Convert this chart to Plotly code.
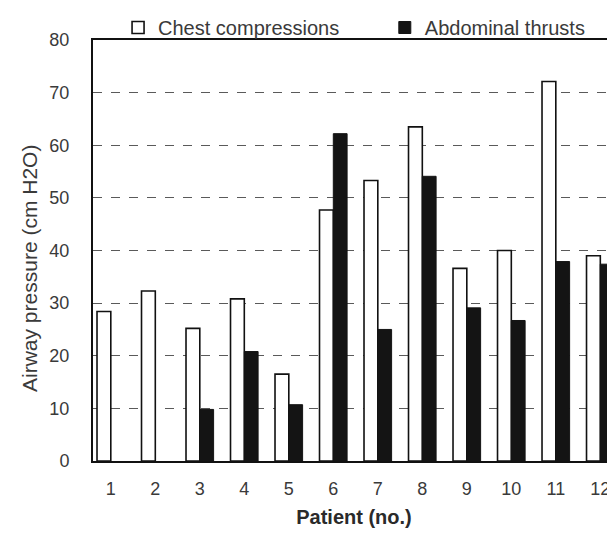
import plotly.graph_objects as go

# ---- data ----
patients = ["1", "2", "3", "4", "5", "6", "7", "8", "9", "10", "11", "12"]
chest_compressions = [28.4, 32.3, 25.2, 30.8, 16.5, 47.7, 53.3, 63.5, 36.6, 40.0, 72.1, 39.0]
abdominal_thrusts = [None, None, 9.8, 20.8, 10.7, 62.2, 25.0, 54.1, 29.1, 26.7, 37.9, 37.4]
y_ticks = [0, 10, 20, 30, 40, 50, 60, 70, 80]

FONT = "Liberation Sans, Arial, sans-serif"
TXT = "#3a3a3a"

fig = go.Figure()
fig.add_trace(go.Bar(
    name="Chest compressions", x=patients, y=chest_compressions, legend="legend",
    marker=dict(color="white", line=dict(color="#111111", width=1.6)),
))
fig.add_trace(go.Bar(
    name="Abdominal thrusts", x=patients, y=abdominal_thrusts, legend="legend2",
    marker=dict(color="#141414", line=dict(color="#141414", width=1)),
))

legend_common = dict(
    orientation="h", yanchor="middle", y=1.0305, xanchor="left",
    font=dict(family=FONT, size=20, color=TXT),
    bgcolor="rgba(0,0,0,0)", itemwidth=30,
)

fig.update_layout(
    # the page body adds an 8px margin, so the figure is 8px smaller than the window
    width=607, height=526,
    margin=dict(l=85, r=0, t=27, b=73),
    paper_bgcolor="white", plot_bgcolor="white",
    barmode="group", bargap=0.38, bargroupgap=0.0,
    font=dict(family=FONT, size=19, color=TXT),
    showlegend=True,
    legend=dict(x=0.048, **legend_common),
    legend2=dict(x=0.559, **legend_common),
    xaxis=dict(
        type="category", range=[-0.40, 11.33], automargin=False,
        showline=True, linecolor="#111111", linewidth=2, mirror=True,
        showgrid=False, ticks="", ticklabelstandoff=10,
        tickfont=dict(family=FONT, size=18, color=TXT),
        title=dict(text="Patient (no.)", standoff=12,
                   font=dict(family=FONT, size=20, color="#2a2a2a", weight="bold")),
    ),
    yaxis=dict(
        range=[0, 80], tickvals=y_ticks, automargin=False,
        showline=True, linecolor="#111111", linewidth=2, mirror=False,
        showgrid=True, gridcolor="#5a5a5a", gridwidth=1, griddash="dash",
        zeroline=False, ticks="", ticklabelstandoff=18,
        tickfont=dict(family=FONT, size=18, color=TXT),
    ),
    annotations=[dict(
        text="Airway pressure (cm H2O)", textangle=-90,
        xref="paper", yref="paper", x=-0.123, y=0.458,
        xanchor="center", yanchor="middle", showarrow=False,
        font=dict(family=FONT, size=21, color=TXT),
    )],
)

fig.write_html("out.html")
